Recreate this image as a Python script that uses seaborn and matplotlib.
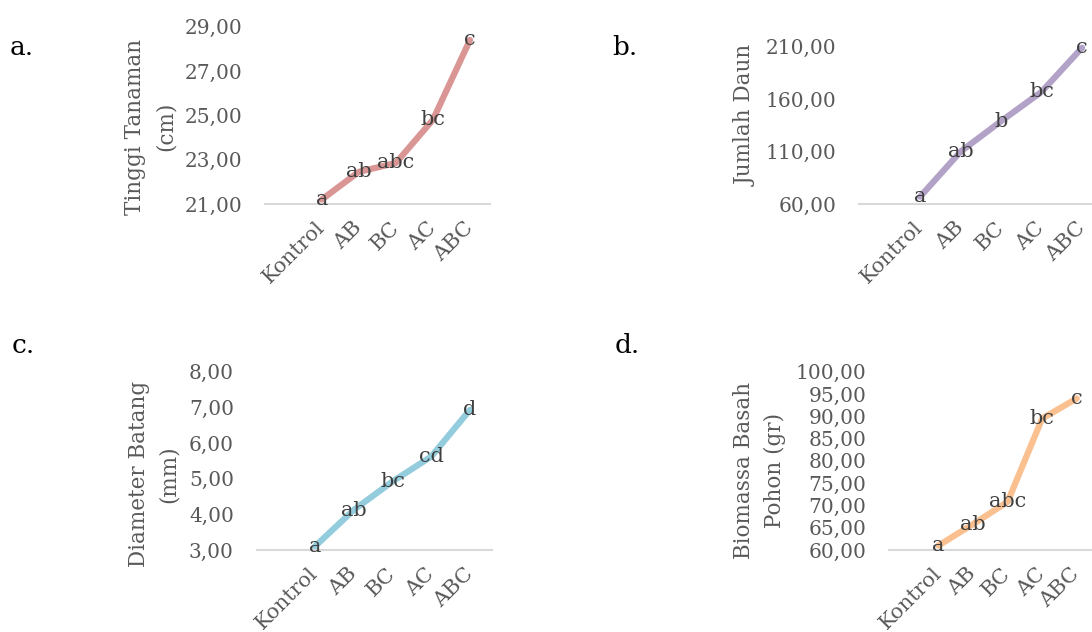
import matplotlib
matplotlib.use("Agg")
import numpy as np
import pandas as pd
import seaborn as sns
import matplotlib.pyplot as plt
from matplotlib.ticker import FuncFormatter

# data
treatments = ["Kontrol", "AB", "BC", "AC", "ABC"]

tinggi = [21.2, 22.45, 22.85, 24.8, 28.4]
tinggi_notasi = ["a", "ab", "abc", "bc", "c"]

daun = [67.0, 110.0, 139.0, 167.0, 209.0]
daun_notasi = ["a", "ab", "b", "bc", "c"]

diameter = [3.1, 4.12, 4.92, 5.62, 6.93]
diameter_notasi = ["a", "ab", "bc", "cd", "d"]

biomassa = [61.0, 65.8, 70.8, 89.5, 94.0]
biomassa_notasi = ["a", "ab", "abc", "bc", "c"]

sns.set_theme(style="white")
plt.rcParams["font.family"] = ["DejaVu Serif"]

W, H = 1092, 632
fig = plt.figure(figsize=(W / 100, H / 100), dpi=100)

TICK = "#595959"
FS = 14.5


def px_axes(left, top, right, bottom):
    return fig.add_axes([left / W, (H - bottom) / H, (right - left) / W, (bottom - top) / H])


panels = [
    # letter, letter pos, rect (px), values, notes, color, ylim, yticks, ylabel, label coords, xlim
    ("a.", (10, 55), (265, 26.7, 490, 204), tinggi, tinggi_notasi, "#D99694",
     (21, 29), np.arange(21, 30, 2), "Tinggi Tanaman\n(cm)", (-0.392, 0.436), (-1.53, 4.54)),
    ("b.", (612, 55), (859, 46.7, 1110, 204), daun, daun_notasi, "#B3A2C7",
     (60, 210), np.arange(60, 211, 50), "Jumlah Daun", (-0.408, 0.561), (-1.51, 4.69)),
    ("c.", (12, 353), (256.7, 371.7, 491.7, 550), diameter, diameter_notasi, "#93CDDD",
     (3, 8), np.arange(3, 9, 1), "Diameter Batang\n(mm)", (-0.326, 0.426), (-1.5, 4.56)),
    ("d.", (615, 353), (889.3, 371.7, 1110, 550), biomassa, biomassa_notasi, "#FAC090",
     (60, 100), np.arange(60, 101, 5), "Biomassa Basah\nPohon (gr)", (-0.468, 0.449), (-1.42, 4.96)),
]

for letter, lpos, rect, vals, notes, color, ylim, yticks, ylabel, lcoords, xlim in panels:
    ax = px_axes(*rect)
    df = pd.DataFrame({"perlakuan": treatments, "nilai": vals})
    sns.lineplot(data=df, x="perlakuan", y="nilai", ax=ax, color=color,
                 linewidth=4.5, solid_capstyle="round", clip_on=False, sort=False)
    for i, (v, n) in enumerate(zip(vals, notes)):
        ax.text(i, v, n, ha="center", va="center", fontsize=FS + 0.5, color="#404040", clip_on=False)
    ax.set_xlim(*xlim)
    ax.set_ylim(*ylim)
    ax.set_yticks(yticks)
    ax.yaxis.set_major_formatter(FuncFormatter(lambda v, p: f"{v:.2f}".replace(".", ",")))
    ax.set_facecolor("none")
    for s in ["top", "right", "left"]:
        ax.spines[s].set_visible(False)
    ax.spines["bottom"].set_color("#D9D9D9")
    ax.spines["bottom"].set_linewidth(1.5)
    ax.tick_params(axis="y", length=0, pad=16.5, labelsize=FS, labelcolor=TICK)
    ax.tick_params(axis="x", length=0, pad=15, labelsize=FS + 0.5, labelcolor=TICK)
    for lab in ax.get_xticklabels():
        lab.set_rotation(45)
        lab.set_ha("right")
        lab.set_va("center")
        lab.set_rotation_mode("anchor")
    ax.set_xlabel("")
    ax.set_ylabel(ylabel, fontsize=15.5, color=TICK, linespacing=1.5)
    ax.yaxis.set_label_coords(*lcoords)
    fig.text(lpos[0] / W, (H - lpos[1]) / H, letter, fontsize=19, color="black",
             ha="left", va="baseline")

fig.savefig("out.png", dpi=100)
